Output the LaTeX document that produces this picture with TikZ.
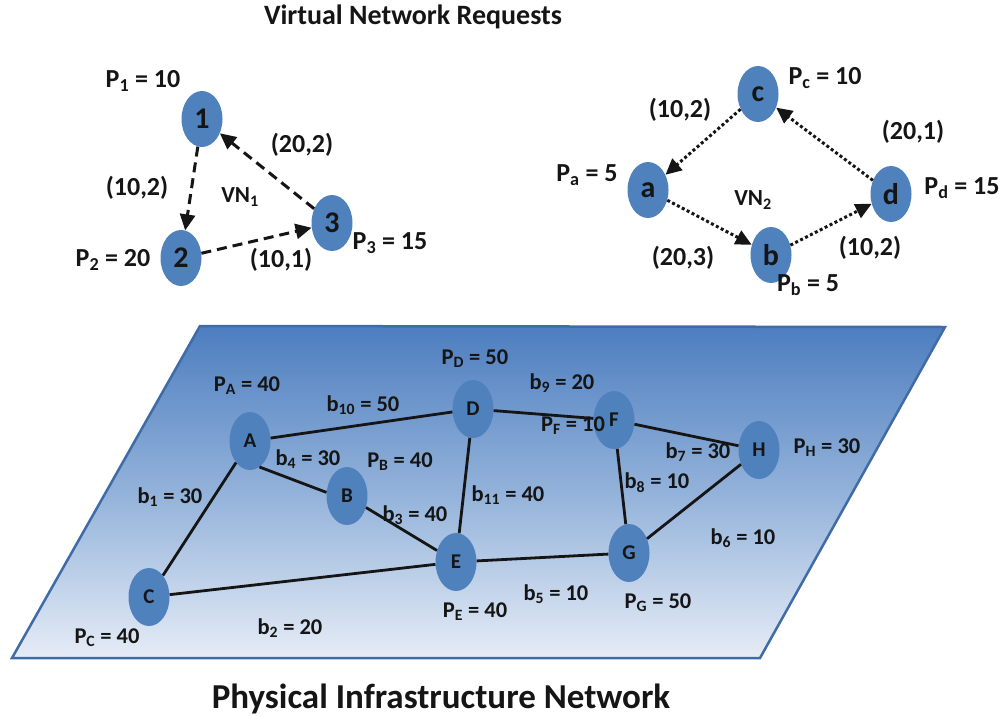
\documentclass[tikz,border=0pt]{standalone}
\usepackage{fontspec}
\setmainfont{Carlito}
\usetikzlibrary{shapes.geometric,arrows.meta}
\definecolor{nodeblue}{HTML}{4F81BD}
\definecolor{planetop}{HTML}{4D7EBF}
\definecolor{planemid}{HTML}{93B2DA}
\definecolor{planebot}{HTML}{E6ECF6}
\definecolor{planeedge}{HTML}{3F6CA6}
\definecolor{ink}{HTML}{151515}
\begin{document}
\begin{tikzpicture}[x=1pt,y=-1pt,
  vnode/.style={ellipse, fill=nodeblue, minimum width=41pt, minimum height=56pt, inner sep=0pt,
    text=ink, font=\fontsize{30}{30}\selectfont\bfseries},
  pnode/.style={ellipse, fill=nodeblue, minimum width=41pt, minimum height=58pt, inner sep=0pt,
    text=ink, font=\fontsize{21}{21}\selectfont\bfseries},
  lbl/.style={font=\fontsize{26}{26}\selectfont\bfseries, inner sep=0pt, text=ink},
  plbl/.style={font=\fontsize{22.5}{22.5}\selectfont\bfseries, inner sep=0pt, text=ink},
  title/.style={font=\fontsize{28}{28}\selectfont\bfseries, inner sep=0pt, text=ink},
  dashedge/.style={line width=3pt, ink, dash pattern=on 10pt off 6pt,
    -{Triangle[length=16pt,width=15pt]}},
  dotedge/.style={line width=3pt, ink, dash pattern=on 3pt off 2.5pt,
    -{Triangle[length=16pt,width=15pt]}},
  link/.style={line width=2.8pt, ink}
]
\useasboundingbox (0,0) rectangle (1008,717);

% ---------- titles ----------
\node[title] (t1) at (413,17) {Virtual Network Requests};
\node[title, font=\fontsize{35}{35}\selectfont\bfseries] (t2) at (441,699) {Physical Infrastructure Network};

% ---------- virtual network 1 ----------
\node[vnode] (n1) at (202,119) {1};
\node[vnode] (n2) at (181,258) {2};
\node[vnode] (n3) at (332,223) {3};
\draw[dashedge] (n1) -- (n2);
\draw[dashedge] (n2) -- (n3);
\draw[dashedge] (n3) -- (n1);
\node[lbl] (p1) at (143,81) {P\textsubscript{1} = 10};
\node[lbl] (p2) at (113,260) {P\textsubscript{2} = 20};
\node[lbl] (p3) at (390,243) {P\textsubscript{3} = 15};
\node[lbl] (e31) at (302,145) {(20,2)};
\node[lbl] (e12) at (137,188) {(10,2)};
\node[lbl] (e23) at (281,260) {(10,1)};
\node[lbl, font=\fontsize{23}{23}\selectfont\bfseries] (vn1) at (240,197) {VN\textsubscript{1}};

% ---------- virtual network 2 ----------
\node[vnode] (nc) at (758,94) {c};
\node[vnode] (na) at (648,190) {a};
\node[vnode] (nb) at (771,255) {b};
\node[vnode] (nd) at (891,194) {d};
\draw[dotedge] (nc) -- (na);
\draw[dotedge] (na) -- (nb);
\draw[dotedge] (nb) -- (nd);
\draw[dotedge] (nd) -- (nc);
\node[lbl] (pc) at (825,78) {P\textsubscript{c} = 10};
\node[lbl] (pa) at (587,175) {P\textsubscript{a} = 5};
\node[lbl] (pd) at (962,188) {P\textsubscript{d} = 15};
\node[lbl] (pb) at (808,285) {P\textsubscript{b} = 5};
\node[lbl] (eca) at (680,110) {(10,2)};
\node[lbl] (edc) at (913,132) {(20,1)};
\node[lbl] (eab) at (683,258) {(20,3)};
\node[lbl] (ebd) at (870,248) {(10,2)};
\node[lbl, font=\fontsize{23}{23}\selectfont\bfseries] (vn2) at (753,200) {VN\textsubscript{2}};

% ---------- physical plane ----------
\coordinate (q1) at (200,326);
\coordinate (q2) at (945,327);
\coordinate (q3) at (760,658);
\coordinate (q4) at (12,658);
\shade[top color=planetop, bottom color=planebot, middle color=planemid]
  (q1) -- (q2) -- (q3) -- (q4) -- cycle;
\draw[planeedge, line width=2.5pt, line join=miter] (q1) -- (q2) -- (q3) -- (q4) -- cycle;

\node[pnode] (A) at (250,441) {A};
\node[pnode] (B) at (347,496) {B};
\node[pnode] (C) at (149,597) {C};
\node[pnode] (D) at (473,409) {D};
\node[pnode] (E) at (456,562) {E};
\node[pnode] (F) at (614,420) {F};
\node[pnode] (G) at (629,553) {G};
\node[pnode] (H) at (759,450) {H};

\draw[link] (A) -- (D);
\draw[link] (A.-70) -- (B.170);
\draw[link] (A) -- (C);
\draw[link] (B) -- (E);
\draw[link] (D) -- (E);
\draw[link] (C) -- (E);
\draw[link] (E) -- (G);
\draw[link] (D) -- (F);
\draw[link] (F) -- (H);
\draw[link] (F) -- (G);
\draw[link] (G) -- (H);

\node[plbl] (pA) at (247,386) {P\textsubscript{A} = 40};
\node[plbl] (pB) at (400,462) {P\textsubscript{B} = 40};
\node[plbl] (pC) at (107,638) {P\textsubscript{C} = 40};
\node[plbl] (pD) at (475,359) {P\textsubscript{D} = 50};
\node[plbl] (pE) at (475,612) {P\textsubscript{E} = 40};
\node[plbl] (pF) at (573,426) {P\textsubscript{F} = 10};
\node[plbl] (pG) at (658,603) {P\textsubscript{G} = 50};
\node[plbl] (pH) at (827,448) {P\textsubscript{H} = 30};

\node[plbl] (b1) at (170,497) {b\textsubscript{1} = 30};
\node[plbl] (b2) at (290,628) {b\textsubscript{2} = 20};
\node[plbl] (b3) at (415,515) {b\textsubscript{3} = 40};
\node[plbl] (b4) at (308,459) {b\textsubscript{4} = 30};
\node[plbl] (b5) at (556,594) {b\textsubscript{5} = 10};
\node[plbl] (b6) at (743,538) {b\textsubscript{6} = 10};
\node[plbl] (b7) at (698,452) {b\textsubscript{7} = 30};
\node[plbl] (b8) at (657,483) {b\textsubscript{8} = 10};
\node[plbl] (b9) at (562,383) {b\textsubscript{9} = 20};
\node[plbl] (b10) at (363,405) {b\textsubscript{10} = 50};
\node[plbl] (b11) at (508,495) {b\textsubscript{11} = 40};
\end{tikzpicture}
\end{document}
